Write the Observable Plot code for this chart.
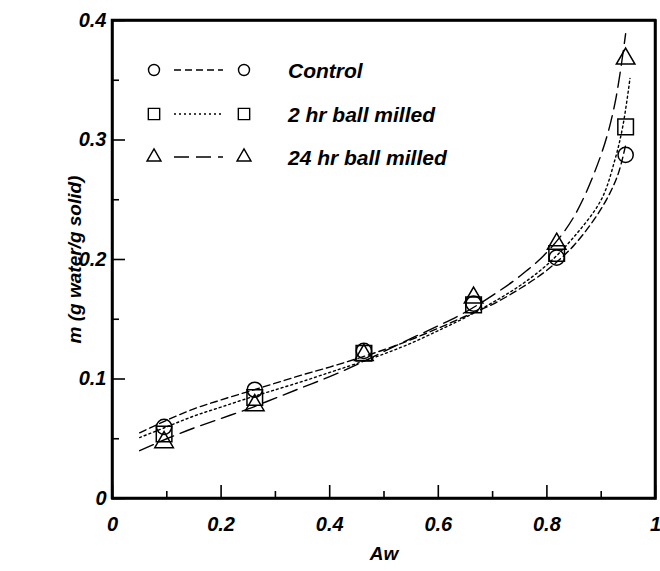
<!DOCTYPE html>
<html><head><meta charset="utf-8">
<script src="https://cdn.jsdelivr.net/npm/d3@7"></script>
<script src="https://cdn.jsdelivr.net/npm/@observablehq/plot@0.6"></script>
<style>
body{margin:0;background:#fff}
#chart{position:relative;width:660px;height:571px}
</style>
</head><body><div id="chart"></div>
<script>
// ---- data ----
const seriesNames = ["Control", "2 hr ball milled", "24 hr ball milled"];
const aw = [0.095, 0.262, 0.463, 0.665, 0.818, 0.945];
const mControl = [0.060, 0.091, 0.1235, 0.163, 0.2015, 0.2875];
const m2hr     = [0.054, 0.0845, 0.1215, 0.162, 0.205, 0.311];
const m24hr    = [0.047, 0.078, 0.120, 0.168, 0.213, 0.368];

// fitted curves as drawn
const fitAwControl = [0.05,0.10,0.15,0.20,0.25,0.30,0.35,0.40,0.45,0.50,0.55,0.60,0.65,0.70,0.75,0.80,0.85,0.90,0.93,0.945];
const fitControl   = [0.055,0.0655,0.075,0.0825,0.0895,0.0965,0.1035,0.110,0.117,0.1245,0.133,0.1425,0.1525,0.1625,0.1755,0.191,0.212,0.2425,0.270,0.296];
const fitAw2hr     = [0.05,0.10,0.15,0.20,0.25,0.30,0.35,0.40,0.45,0.50,0.55,0.60,0.65,0.70,0.75,0.80,0.85,0.90,0.925,0.94,0.953];
const fit2hr       = [0.051,0.060,0.069,0.0765,0.084,0.091,0.098,0.1055,0.113,0.121,0.130,0.1405,0.1515,0.164,0.178,0.1955,0.219,0.250,0.283,0.312,0.3515];
const fitAw24hr    = [0.05,0.10,0.15,0.20,0.25,0.30,0.35,0.40,0.45,0.50,0.55,0.60,0.65,0.70,0.75,0.80,0.85,0.90,0.925,0.945];
const fit24hr      = [0.040,0.050,0.059,0.067,0.075,0.084,0.093,0.102,0.112,0.123,0.134,0.1445,0.156,0.170,0.186,0.206,0.236,0.288,0.330,0.389];

const xDomain = [0, 1];
const yDomain = [0, 0.4];
const xMajorTicks = [0, 0.2, 0.4, 0.6, 0.8, 1];
const xMinorTicks = [0.1, 0.3, 0.5, 0.7, 0.9];
const yMajorTicks = [0, 0.1, 0.2, 0.3, 0.4];
const yMinorTicks = [0.05, 0.15, 0.25, 0.35];
const xTitle = "Aw";
const yTitle = "m (g water/g solid)";

// ---- tables ----
const pts = (ys) => aw.map((a, i) => ({aw: a, m: ys[i]}));
const fit = (xs, ys) => xs.map((a, i) => ({aw: a, m: ys[i]}));

const styles = [
  {symbol: "circle",   r: 7.6, dash: "7,4", lr: 5.5},
  {symbol: "square",   r: 8.8, dash: "2,3", lr: 6.4},
  {symbol: "triangle", r: 6.9, dash: "15,7", lr: 5.2}
];
const pointSets = [pts(mControl), pts(m2hr), pts(m24hr)];
const fitSets = [fit(fitAwControl, fitControl), fit(fitAw2hr, fit2hr), fit(fitAw24hr, fit24hr)];

const font = "'Liberation Sans', Arial, sans-serif";
const marks = [];
fitSets.forEach((d, k) => marks.push(Plot.line(d, {x: "aw", y: "m", curve: "catmull-rom", stroke: "black", strokeWidth: 1.4, strokeDasharray: styles[k].dash})));
pointSets.forEach((d, k) => marks.push(Plot.dot(d, {x: "aw", y: "m", symbol: styles[k].symbol, r: styles[k].r, stroke: "black", strokeWidth: 1.5, fill: "none"})));
marks.push(
  Plot.axisX(xMajorTicks, {tickSize: -13, tickPadding: 31, tickFormat: d => String(d), label: null, strokeWidth: 1.6, fontSize: 20}),
  Plot.axisX(xMinorTicks, {tickSize: -7, tickFormat: () => "", label: null, strokeWidth: 1.6}),
  Plot.axisY(yMajorTicks, {tickSize: -13, tickPadding: 19, tickFormat: d => String(d), label: null, strokeWidth: 1.6, fontSize: 20}),
  Plot.axisY(yMinorTicks, {tickSize: -7, tickFormat: () => "", label: null, strokeWidth: 1.6}),
  Plot.frame({stroke: "black", strokeWidth: 2.5}),
  Plot.text([xTitle], {text: d => d, frameAnchor: "bottom", dy: 55, textAnchor: "middle", lineAnchor: "middle"}),
  Plot.text([yTitle], {text: d => d, frameAnchor: "left", dx: -38, rotate: -90, textAnchor: "middle", lineAnchor: "middle"})
);

const chart = Plot.plot({
  width: 660, height: 571,
  marginLeft: 112, marginRight: 5, marginTop: 20, marginBottom: 73,
  x: {domain: xDomain},
  y: {domain: yDomain},
  style: {fontFamily: font, fontSize: "19px", fontWeight: "bold", fontStyle: "italic", color: "black", background: "white"},
  marks
});
document.getElementById("chart").appendChild(chart);

const svg = d3.select(chart);
// plot box, from the library's own scales
const sx = chart.scale("x"), sy = chart.scale("y");
const x0 = sx.apply(xDomain[0]), x1 = sx.apply(xDomain[1]);
const y0 = sy.apply(yDomain[0]), y1 = sy.apply(yDomain[1]);
svg.append("rect").attr("x", x0).attr("y", y1).attr("width", x1 - x0).attr("height", y0 - y1)
  .attr("fill", "none").attr("stroke", "black").attr("stroke-width", 2.5);

// ---- legend inside the plot ----
const lg = svg.append("g");
const rowY = [70, 114, 157];
seriesNames.forEach((name, k) => {
  const st = styles[k];
  const sym = {circle: d3.symbolCircle, square: d3.symbolSquare, triangle: d3.symbolTriangle}[st.symbol];
  const path = d3.symbol(sym, Math.PI * st.lr * st.lr)();
  [154, 244].forEach(x => lg.append("path").attr("d", path)
    .attr("transform", `translate(${x},${rowY[k]})`)
    .attr("fill", "none").attr("stroke", "black").attr("stroke-width", 1.4));
  lg.append("line").attr("x1", 174).attr("x2", 223).attr("y1", rowY[k]).attr("y2", rowY[k])
    .attr("stroke", "black").attr("stroke-width", 1.4).attr("stroke-dasharray", st.dash);
  lg.append("text").attr("x", 288).attr("y", rowY[k]).attr("dy", "0.36em")
    .attr("text-anchor", "start")
    .attr("font-family", font).attr("font-weight", "bold").attr("font-style", "italic")
    .attr("font-size", 21).attr("fill", "black").text(name);
});
</script>
</body></html>
